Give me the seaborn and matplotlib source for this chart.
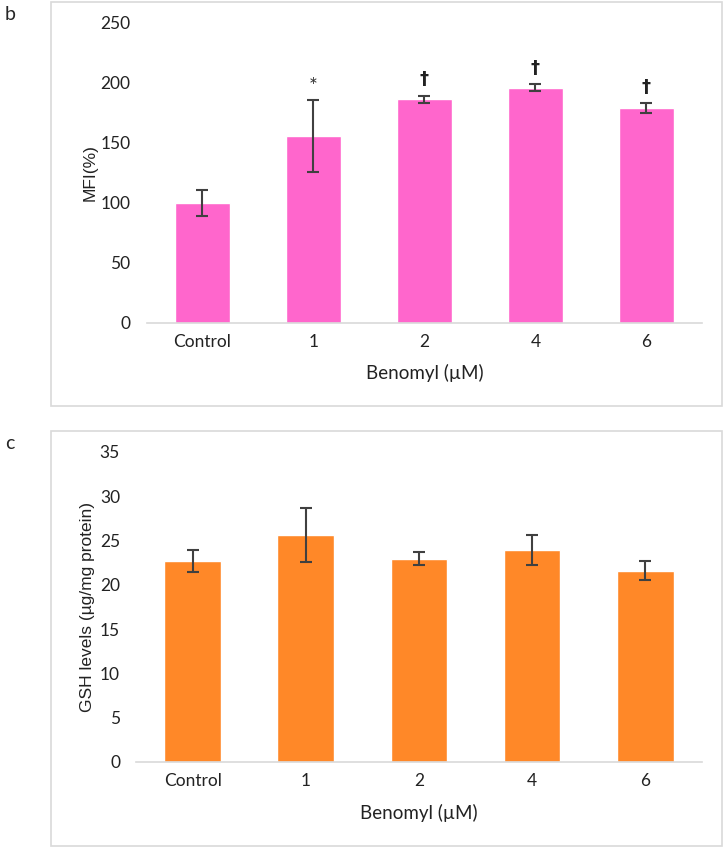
import matplotlib
matplotlib.use("Agg")
import pandas as pd
import seaborn as sns
import matplotlib.pyplot as plt
from matplotlib.patches import Rectangle

# data
doses = ["Control", "1", "2", "4", "6"]
mfi_mean = [100, 155.5, 186.5, 196, 179]
mfi_sd = [11, 30, 3, 3, 4]
mfi_marks = ["", "*", "\u2020", "\u2020", "\u2020"]
gsh_mean = [22.7, 25.65, 22.95, 23.9, 21.6]
gsh_sd = [1.25, 3.05, 0.75, 1.7, 1.1]

sns.set_theme(style="white")
plt.rcParams["font.family"] = ["Lato", "DejaVu Sans"]

fig = plt.figure(figsize=(7.23, 8.47), dpi=100)

# panel frames
for y0, h in [(0.5207, 0.477), (0.0012, 0.490)]:
    fig.patches.append(Rectangle((0.0705, y0), 0.928, h, transform=fig.transFigure,
                                 fill=False, edgecolor="#d9d9d9", linewidth=1.2))

fig.text(5 / 723, 1 - 14 / 847, "b", fontsize=14, va="center")
fig.text(5 / 723, 1 - 443 / 847, "c", fontsize=14, va="center")


def panel(ax, means, sds, color, ylabel, ymax, step, label_x, pad):
    df = pd.DataFrame({"dose": doses, "value": means})
    sns.barplot(data=df, x="dose", y="value", color=color, width=0.5,
                saturation=1, ax=ax, errorbar=None)
    ax.errorbar(range(len(doses)), means, yerr=sds, fmt="none",
                ecolor="#404040", elinewidth=1.5, capsize=4, capthick=1.5)
    ax.set_xlim(-0.5, 4.5)
    ax.set_ylim(0, ymax)
    ax.set_yticks(range(0, ymax + 1, step))
    for s in ["top", "right", "left"]:
        ax.spines[s].set_visible(False)
    ax.spines["bottom"].set_color("#d9d9d9")
    ax.spines["bottom"].set_linewidth(1.2)
    ax.tick_params(axis="both", length=0, labelsize=12.5, labelcolor="#222222")
    ax.tick_params(axis="y", pad=pad)
    ax.tick_params(axis="x", pad=8)
    ax.set_xlabel("Benomyl (\u00b5M)", fontsize=13.5, color="#222222")
    ax.xaxis.set_label_coords(0.5, -0.166)
    ax.xaxis.label.set_va("center")
    ax.set_ylabel(ylabel, fontsize=12.5, family=["Liberation Sans", "DejaVu Sans"],
                  color="#222222")
    ax.yaxis.set_label_coords(label_x, 0.5)
    ax.yaxis.label.set_va("center")


ax1 = fig.add_axes([0.2033, 0.6187, 0.7676, 0.3542])
panel(ax1, mfi_mean, mfi_sd, "#FF66CC", "MFI(%)", 250, 50, -0.103, 12)
for i, m in enumerate(mfi_marks):
    if m == "*":
        ax1.text(i, mfi_mean[i] + mfi_sd[i] + 3, m, ha="center", va="bottom",
                 fontsize=15, color="#333333")
    elif m:
        ax1.text(i, mfi_mean[i] + mfi_sd[i] + 6, m, ha="center", va="bottom",
                 fontsize=13, fontweight="bold", color="#222222",
                 family=["DejaVu Sans"])

ax2 = fig.add_axes([0.1881, 0.1004, 0.7828, 0.366])
panel(ax2, gsh_mean, gsh_sd, "#FF8828", "GSH levels (\u00b5g/mg protein)", 35, 5, -0.086, 11.5)

fig.savefig("out.png", dpi=100)
